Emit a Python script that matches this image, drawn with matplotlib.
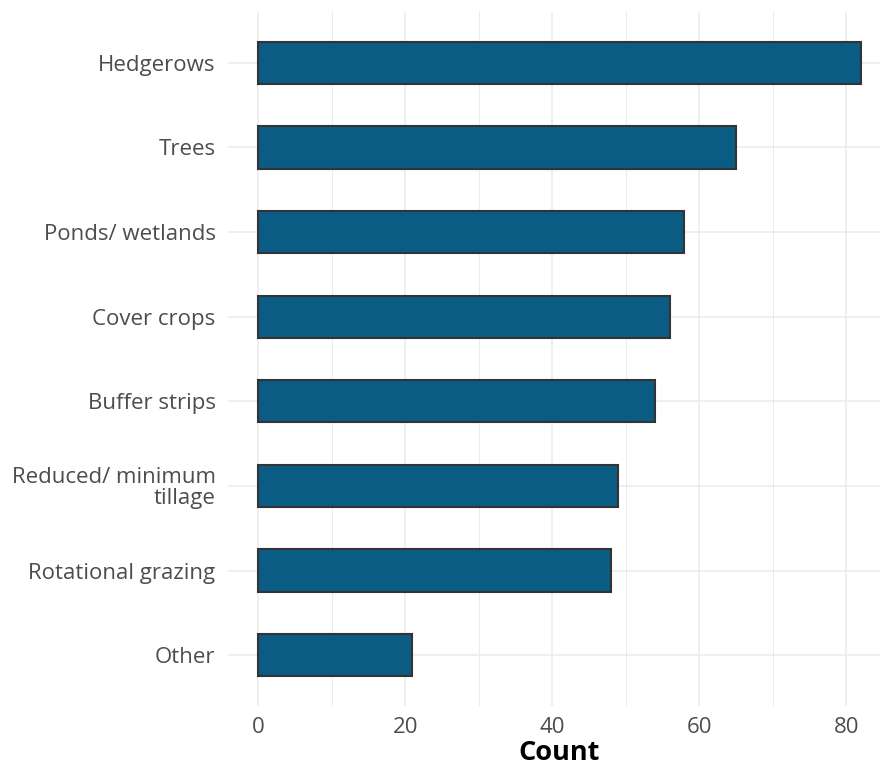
import matplotlib
matplotlib.use("Agg")
import matplotlib.pyplot as plt
from matplotlib.ticker import MultipleLocator

categories = ["Hedgerows", "Trees", "Ponds/ wetlands", "Cover crops", "Buffer strips",
              "Reduced/ minimum\ntillage", "Rotational grazing", "Other"]
counts = [82, 65, 58, 56, 54, 49, 48, 21]
x_ticks = [0, 20, 40, 60, 80]

plt.rcParams['font.family'] = ['Open Sans', 'DejaVu Sans']

fig = plt.figure(figsize=(8.8, 7.67), dpi=100)
# panel extends slightly past the right edge of the figure (cropped like the reference)
ax = fig.add_axes([228/880, 61/767, (891-228)/880, (706-12)/767])

n = len(categories)
ypos = list(range(n))
ax.barh(ypos, counts, height=0.5, color="#0B5C84", edgecolor="#333333",
        linewidth=1.5, zorder=3)
ax.set_ylim(n - 1 + 0.6, -0.6)
ax.set_xlim(-4.1, 86.1)
ax.set_yticks(ypos)
ax.set_yticklabels(categories, fontsize=16, color="#4D4D4D", ha="right",
                   linespacing=0.95)
ax.set_xticks(x_ticks)
ax.set_xticklabels([str(t) for t in x_ticks], fontsize=16, color="#4D4D4D")
ax.xaxis.set_minor_locator(MultipleLocator(10))
ax.tick_params(axis="both", which="both", length=0)
ax.tick_params(axis="y", pad=9)
ax.tick_params(axis="x", pad=8)
ax.grid(True, which="major", axis="both", color="#EBEBEB", linewidth=1.1, zorder=0)
ax.grid(True, which="minor", axis="x", color="#EBEBEB", linewidth=0.7, zorder=0)
ax.set_axisbelow(True)
for s in ax.spines.values():
    s.set_visible(False)
ax.set_xlabel("Count", fontsize=19.5, fontweight="bold", color="black", labelpad=1)

fig.savefig("out.png", dpi=100, facecolor="white")
